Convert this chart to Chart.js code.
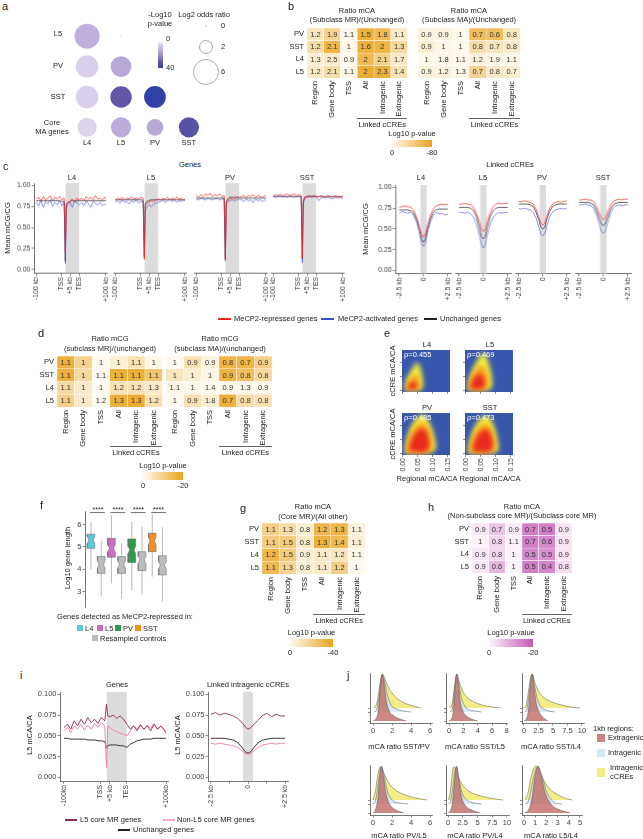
<!DOCTYPE html>
<html>
<head>
<meta charset="utf-8">
<script src="https://cdn.jsdelivr.net/npm/chart.js@4.4.1/dist/chart.umd.min.js"></script>
<style>
  body { margin: 0; width: 643px; height: 839px; position: relative; overflow: hidden; background: #fff;
         font-family: 'Liberation Sans', Arial, sans-serif; color: #222; }
  .t { position: absolute; white-space: nowrap; line-height: 1; color: #222; }
  .k { position: absolute; }
</style>
</head>
<body>
<script>
// ---------------- data ----------------

// a: overlap of MeCP2-activated genes
const A_COLS = ['L4', 'L5', 'PV', 'SST'];
const A_ROWS = ['L5', 'PV', 'SST', 'Core MA genes'];
const A_COL_IDX = [1, 2, 1, 2, 3, 1, 2, 3, 1, 2, 3, 4];
const A_ROW_IDX = [1, 1, 2, 2, 2, 3, 3, 3, 4, 4, 4, 4];
const A_LOG2OR = [5.6, 0.03, 4.5, 3.8, 0.03, 4.5, 4.1, 4.2, 3.3, 3.6, 2.5, 3.6];
const A_NLOGP = [12, 0.5, 5, 14, 0.5, 5, 31, 40, 4, 13, 14, 33];

// heatmaps (rows top to bottom)
const HM_ROWS = ['PV', 'SST', 'L4', 'L5'];
const HM_COLS = ['Region', 'Gene body', 'TSS', 'All', 'Intragenic', 'Extragenic'];

const B_MR_RATIO = [[1.2, 1.9, 1.1, 1.5, 1.8, 1.1], [1.2, 2.1, 1, 1.6, 2, 1.3], [1.3, 2.5, 0.9, 2, 2.1, 1.7], [1.2, 2.1, 1.1, 2, 2.3, 1.4]];
const B_MR_LOGP = [[-20, -36, -4, -68, -60, -16], [-28, -64, -4, -68, -64, -32], [-12, -16, -2, -60, -40, -16], [-16, -28, -4, -72, -68, -24]];
const B_MA_RATIO = [[0.9, 0.9, 1, 0.7, 0.6, 0.8], [0.9, 1, 1, 0.8, 0.7, 0.8], [1, 1.8, 1.1, 1.2, 1.9, 1.1], [0.9, 1.2, 1.3, 0.7, 0.8, 0.7]];
const B_MA_LOGP = [[-8, -8, -2, -56, -56, -20], [-12, -4, -2, -28, -20, -16], [-2, -4, -2, -8, -4, -4], [-8, -8, -4, -36, -16, -12]];

const D_MR_RATIO = [[1.1, 1, 1, 1, 1.1, 1], [1.1, 1, 1.1, 1.1, 1.1, 1.1], [1.1, 1, 1, 1.2, 1.2, 1.3], [1.1, 1, 1.2, 1.3, 1.3, 1.2]];
const D_MR_LOGP = [[-17, -9, -0.4, -3, -6, -1], [-17, -8, -0.4, -17, -17, -12], [-8, -4, -0.4, -6, -6, -4], [-10, -4, -0.4, -17, -18, -6]];
const D_MA_RATIO = [[1, 0.9, 0.9, 0.8, 0.7, 0.9], [1, 1, 1, 0.9, 0.8, 0.8], [1.1, 1, 1.4, 0.9, 1.3, 0.9], [1, 0.9, 1.8, 0.7, 0.8, 0.8]];
const D_MA_LOGP = [[-0.4, -6, -2, -16, -16, -10], [-5, -3, -1, -16, -14, -8], [-1, -0.4, -0.4, -1, -1, -1], [-0.4, -6, -3, -17, -7, -6]];

const G_RATIO = [[1.1, 1.3, 0.8, 1.2, 1.3, 1.1], [1.1, 1.5, 0.8, 1.3, 1.4, 1.1], [1.2, 1.5, 0.9, 1.1, 1.2, 1.1], [1.1, 1.3, 0.8, 1.1, 1.2, 1]];
const G_LOGP = [[-20, -14, -6, -32, -32, -4], [-22, -22, -8, -34, -30, -6], [-32, -22, -6, -8, -10, -2], [-30, -18, -6, -8, -20, -1]];

const H_RATIO = [[0.9, 0.7, 0.9, 0.7, 0.5, 0.9], [1, 0.8, 1.1, 0.7, 0.6, 0.9], [0.9, 0.8, 1, 0.5, 0.5, 0.9], [0.9, 0.6, 1, 0.5, 0.4, 0.8]];
const H_LOGP = [[-2, -6, -1, -15, -15, -2], [-0.4, -4, -0.4, -15, -14, -2], [-2, -4, -0.4, -14, -13, -2], [-2, -8, -0.4, -15, -14, -3]];

// c / i: metagene positions (-100 kb = 0, TSS = 100, TES = 148, +100 kb = 240)
const GX = [0, 8, 16, 24, 32, 40, 48, 56, 64, 72, 80, 88, 96, 100, 103, 108, 116, 124, 132, 140, 148,
            156, 164, 172, 180, 188, 196, 204, 212, 220, 228, 236, 240];
const GENE_TSS = 100, GENE_TES = 148;

const CG_RED_L4 = [0.84, 0.86, 0.82, 0.87, 0.83, 0.85, 0.88, 0.82, 0.86, 0.84, 0.87, 0.83, 0.85, 0.20, 0.78, 0.79, 0.82, 0.84, 0.80, 0.85, 0.83, 0.85, 0.82, 0.87, 0.84, 0.86, 0.83, 0.88, 0.84, 0.85, 0.83, 0.86, 0.84];
const CG_BLUE_L4 = [0.80, 0.76, 0.82, 0.74, 0.81, 0.78, 0.83, 0.75, 0.80, 0.77, 0.82, 0.76, 0.80, 0.07, 0.72, 0.76, 0.80, 0.74, 0.82, 0.79, 0.77, 0.80, 0.76, 0.82, 0.78, 0.74, 0.81, 0.79, 0.77, 0.80, 0.76, 0.78, 0.77];
const CG_BLACK_L4 = [0.82, 0.82, 0.82, 0.82, 0.82, 0.82, 0.82, 0.82, 0.82, 0.82, 0.82, 0.81, 0.81, 0.10, 0.77, 0.80, 0.81, 0.82, 0.82, 0.82, 0.82, 0.82, 0.82, 0.82, 0.82, 0.82, 0.82, 0.82, 0.82, 0.82, 0.82, 0.82, 0.82];
const CG_RED_L5 = [0.83, 0.85, 0.84, 0.86, 0.83, 0.85, 0.84, 0.86, 0.84, 0.85, 0.84, 0.86, 0.85, 0.12, 0.76, 0.78, 0.80, 0.82, 0.81, 0.83, 0.84, 0.83, 0.85, 0.84, 0.86, 0.83, 0.85, 0.84, 0.86, 0.84, 0.85, 0.83, 0.84];
const CG_BLUE_L5 = [0.80, 0.82, 0.79, 0.83, 0.80, 0.81, 0.78, 0.82, 0.80, 0.83, 0.79, 0.81, 0.80, 0.14, 0.70, 0.74, 0.77, 0.75, 0.78, 0.79, 0.80, 0.81, 0.83, 0.80, 0.82, 0.84, 0.81, 0.83, 0.80, 0.82, 0.81, 0.83, 0.82];
const CG_BLACK_L5 = [0.83, 0.83, 0.83, 0.83, 0.83, 0.83, 0.83, 0.83, 0.83, 0.83, 0.83, 0.83, 0.82, 0.16, 0.78, 0.81, 0.82, 0.83, 0.83, 0.83, 0.83, 0.83, 0.83, 0.83, 0.83, 0.83, 0.83, 0.83, 0.83, 0.83, 0.83, 0.83, 0.83];
const CG_RED_PV = [0.88, 0.86, 0.89, 0.87, 0.90, 0.88, 0.91, 0.87, 0.89, 0.88, 0.90, 0.87, 0.88, 0.12, 0.80, 0.82, 0.84, 0.85, 0.84, 0.86, 0.85, 0.87, 0.88, 0.86, 0.88, 0.87, 0.89, 0.86, 0.88, 0.87, 0.86, 0.88, 0.87];
const CG_BLUE_PV = [0.84, 0.83, 0.85, 0.84, 0.83, 0.85, 0.84, 0.83, 0.84, 0.85, 0.83, 0.84, 0.84, 0.10, 0.78, 0.80, 0.82, 0.83, 0.82, 0.83, 0.84, 0.83, 0.81, 0.84, 0.82, 0.83, 0.80, 0.84, 0.82, 0.83, 0.81, 0.83, 0.82];
const CG_BLACK_PV = [0.85, 0.85, 0.85, 0.85, 0.85, 0.85, 0.85, 0.85, 0.85, 0.85, 0.85, 0.85, 0.85, 0.13, 0.80, 0.84, 0.86, 0.86, 0.86, 0.86, 0.86, 0.85, 0.85, 0.85, 0.85, 0.85, 0.85, 0.85, 0.85, 0.85, 0.85, 0.85, 0.85];
const CG_RED_SST = [0.88, 0.89, 0.88, 0.90, 0.88, 0.89, 0.90, 0.88, 0.89, 0.90, 0.88, 0.89, 0.88, 0.14, 0.80, 0.86, 0.87, 0.88, 0.87, 0.88, 0.87, 0.86, 0.88, 0.87, 0.86, 0.88, 0.87, 0.86, 0.88, 0.87, 0.86, 0.87, 0.87];
const CG_BLUE_SST = [0.87, 0.86, 0.87, 0.88, 0.86, 0.87, 0.86, 0.88, 0.87, 0.86, 0.87, 0.87, 0.86, 0.08, 0.78, 0.85, 0.86, 0.87, 0.86, 0.87, 0.86, 0.82, 0.85, 0.86, 0.85, 0.86, 0.85, 0.84, 0.86, 0.85, 0.86, 0.85, 0.85];
const CG_BLACK_SST = [0.87, 0.87, 0.87, 0.87, 0.87, 0.87, 0.87, 0.87, 0.87, 0.87, 0.87, 0.87, 0.87, 0.12, 0.81, 0.86, 0.87, 0.87, 0.87, 0.87, 0.87, 0.87, 0.87, 0.87, 0.87, 0.87, 0.87, 0.87, 0.87, 0.87, 0.87, 0.87, 0.87];

// linked cCRE profiles (kb from cCRE centre)
const CX = [-2.5, -2.2, -1.9, -1.6, -1.3, -1.0, -0.7, -0.4, -0.2, 0, 0.2, 0.4, 0.7, 1.0, 1.3, 1.6, 1.9, 2.2, 2.5];
const CC_RED_L4 = [0.76, 0.77, 0.78, 0.77, 0.76, 0.72, 0.64, 0.52, 0.44, 0.40, 0.44, 0.54, 0.66, 0.74, 0.78, 0.79, 0.80, 0.79, 0.80];
const CC_BLACK_L4 = [0.73, 0.73, 0.73, 0.73, 0.72, 0.69, 0.61, 0.48, 0.38, 0.34, 0.38, 0.49, 0.62, 0.70, 0.73, 0.74, 0.74, 0.74, 0.74];
const CC_BLUE_L4 = [0.69, 0.71, 0.70, 0.69, 0.70, 0.66, 0.58, 0.44, 0.33, 0.29, 0.33, 0.45, 0.58, 0.66, 0.70, 0.68, 0.69, 0.67, 0.68];
const CC_RED_L5 = [0.80, 0.80, 0.81, 0.80, 0.79, 0.76, 0.69, 0.58, 0.50, 0.47, 0.50, 0.59, 0.70, 0.77, 0.80, 0.81, 0.80, 0.81, 0.81];
const CC_BLACK_L5 = [0.76, 0.76, 0.76, 0.76, 0.75, 0.72, 0.64, 0.51, 0.41, 0.38, 0.41, 0.52, 0.65, 0.72, 0.75, 0.76, 0.76, 0.76, 0.76];
const CC_BLUE_L5 = [0.70, 0.70, 0.69, 0.70, 0.68, 0.64, 0.55, 0.42, 0.31, 0.27, 0.31, 0.43, 0.56, 0.64, 0.68, 0.70, 0.69, 0.70, 0.70];
const CC_RED_PV = [0.83, 0.83, 0.84, 0.83, 0.82, 0.80, 0.74, 0.64, 0.57, 0.55, 0.57, 0.65, 0.75, 0.80, 0.82, 0.83, 0.82, 0.83, 0.84];
const CC_BLACK_PV = [0.80, 0.80, 0.80, 0.80, 0.79, 0.77, 0.70, 0.60, 0.52, 0.50, 0.52, 0.61, 0.71, 0.77, 0.79, 0.80, 0.80, 0.80, 0.80];
const CC_BLUE_PV = [0.75, 0.74, 0.75, 0.74, 0.73, 0.70, 0.63, 0.52, 0.44, 0.42, 0.44, 0.53, 0.64, 0.70, 0.73, 0.74, 0.75, 0.74, 0.75];
const CC_RED_SST = [0.85, 0.85, 0.86, 0.85, 0.85, 0.83, 0.77, 0.68, 0.63, 0.61, 0.63, 0.69, 0.78, 0.83, 0.85, 0.86, 0.85, 0.86, 0.86];
const CC_BLACK_SST = [0.82, 0.82, 0.82, 0.82, 0.81, 0.79, 0.72, 0.62, 0.56, 0.54, 0.56, 0.63, 0.73, 0.79, 0.81, 0.82, 0.82, 0.82, 0.82];
const CC_BLUE_SST = [0.79, 0.79, 0.80, 0.79, 0.78, 0.75, 0.67, 0.55, 0.47, 0.45, 0.47, 0.56, 0.68, 0.75, 0.78, 0.79, 0.78, 0.79, 0.79];

// e: density contours [regional mCA/CA, cCRE mCA/CA]
const E_YELLOW = [
  [[0.006, 0.002], [0.006, 0.02], [0.012, 0.045], [0.025, 0.07], [0.04, 0.095], [0.048, 0.103], [0.056, 0.09], [0.063, 0.06], [0.067, 0.03], [0.063, 0.006], [0.04, 0.001], [0.006, 0.002]],
  [[0.006, 0.002], [0.006, 0.025], [0.015, 0.06], [0.03, 0.095], [0.048, 0.128], [0.058, 0.138], [0.068, 0.125], [0.078, 0.09], [0.086, 0.05], [0.084, 0.01], [0.05, 0.001], [0.006, 0.002]],
  [[0.006, 0.002], [0.007, 0.03], [0.016, 0.07], [0.032, 0.11], [0.052, 0.135], [0.066, 0.142], [0.08, 0.128], [0.095, 0.095], [0.106, 0.055], [0.108, 0.015], [0.07, 0.002], [0.006, 0.002]],
  [[0.006, 0.002], [0.008, 0.03], [0.018, 0.07], [0.034, 0.108], [0.052, 0.13], [0.066, 0.138], [0.082, 0.125], [0.096, 0.09], [0.105, 0.05], [0.106, 0.012], [0.07, 0.002], [0.006, 0.002]]
];
const E_ORANGE = [
  [[0.01, 0.005], [0.012, 0.02], [0.02, 0.038], [0.035, 0.055], [0.046, 0.06], [0.053, 0.045], [0.056, 0.02], [0.052, 0.006], [0.03, 0.004], [0.01, 0.005]],
  [[0.01, 0.005], [0.012, 0.03], [0.022, 0.06], [0.04, 0.085], [0.055, 0.09], [0.068, 0.07], [0.074, 0.035], [0.07, 0.008], [0.04, 0.004], [0.01, 0.005]],
  [[0.012, 0.006], [0.015, 0.035], [0.026, 0.07], [0.045, 0.1], [0.062, 0.112], [0.08, 0.1], [0.092, 0.065], [0.096, 0.025], [0.085, 0.007], [0.04, 0.005], [0.012, 0.006]],
  [[0.012, 0.006], [0.016, 0.035], [0.028, 0.07], [0.047, 0.098], [0.065, 0.108], [0.082, 0.095], [0.093, 0.06], [0.096, 0.022], [0.085, 0.007], [0.04, 0.005], [0.012, 0.006]]
];
const E_RED = [
  [[0.014, 0.008], [0.02, 0.022], [0.032, 0.033], [0.042, 0.03], [0.046, 0.018], [0.043, 0.008], [0.028, 0.006], [0.014, 0.008]],
  [[0.014, 0.008], [0.018, 0.028], [0.03, 0.05], [0.047, 0.062], [0.058, 0.05], [0.062, 0.025], [0.056, 0.009], [0.03, 0.006], [0.014, 0.008]],
  [[0.02, 0.01], [0.024, 0.035], [0.036, 0.065], [0.055, 0.088], [0.072, 0.088], [0.084, 0.06], [0.087, 0.025], [0.078, 0.01], [0.045, 0.008], [0.02, 0.01]],
  [[0.022, 0.01], [0.026, 0.035], [0.038, 0.065], [0.057, 0.086], [0.074, 0.085], [0.086, 0.058], [0.089, 0.025], [0.08, 0.01], [0.045, 0.008], [0.022, 0.01]]
];
const E_NAMES = ['L4', 'L5', 'PV', 'SST'];
const E_RHO = [0.455, 0.469, 0.485, 0.473];

// f: log10 gene length box stats
const F_POS = [1, 2, 3, 4, 5, 6, 7, 8];
const F_LO  = [4.00, 2.78, 3.37, 2.70, 3.07, 2.85, 3.67, 2.55];
const F_Q1  = [4.94, 3.82, 4.54, 3.82, 4.31, 3.94, 4.79, 3.75];
const F_MED = [5.31, 4.22, 4.94, 4.22, 4.87, 4.42, 5.27, 4.19];
const F_Q3  = [5.57, 4.57, 5.39, 4.57, 5.36, 4.79, 5.61, 4.61];
const F_HI  = [6.13, 5.28, 6.43, 5.16, 6.13, 5.91, 6.46, 5.88];
const F_COLORS = ['#5bc8dc', '#bcbcbc', '#c86fc0', '#bcbcbc', '#2f9a4a', '#bcbcbc', '#f68f1f', '#bcbcbc'];
const F_SIG = [[1, 2], [3, 4], [5, 6], [7, 8]];

// i: L5 mCA/CA
const I_CORE = [0.060, 0.064, 0.058, 0.068, 0.062, 0.070, 0.064, 0.072, 0.066, 0.070, 0.065, 0.072, 0.068, 0.088, 0.074, 0.073, 0.075, 0.071, 0.074, 0.070, 0.064, 0.058, 0.062, 0.056, 0.063, 0.058, 0.062, 0.056, 0.064, 0.058, 0.062, 0.057, 0.055];
const I_NONCORE = [0.056, 0.060, 0.054, 0.062, 0.058, 0.064, 0.057, 0.063, 0.058, 0.065, 0.060, 0.066, 0.062, 0.012, 0.062, 0.060, 0.057, 0.055, 0.053, 0.052, 0.050, 0.056, 0.062, 0.058, 0.064, 0.057, 0.063, 0.059, 0.065, 0.058, 0.062, 0.057, 0.052];
const I_UNCH = [0.047, 0.047, 0.046, 0.046, 0.046, 0.046, 0.046, 0.045, 0.045, 0.045, 0.044, 0.044, 0.043, 0.035, 0.038, 0.039, 0.039, 0.039, 0.038, 0.038, 0.036, 0.040, 0.042, 0.044, 0.045, 0.046, 0.046, 0.046, 0.047, 0.047, 0.047, 0.047, 0.047];
const IC_CORE = [0.076, 0.078, 0.075, 0.077, 0.076, 0.074, 0.071, 0.066, 0.061, 0.058, 0.060, 0.064, 0.069, 0.075, 0.077, 0.073, 0.076, 0.074, 0.074];
const IC_NONCORE = [0.041, 0.040, 0.041, 0.040, 0.039, 0.038, 0.036, 0.032, 0.029, 0.027, 0.029, 0.032, 0.036, 0.039, 0.040, 0.041, 0.040, 0.041, 0.041];
const IC_UNCH = [0.047, 0.047, 0.047, 0.047, 0.046, 0.045, 0.042, 0.036, 0.031, 0.029, 0.031, 0.036, 0.042, 0.045, 0.046, 0.047, 0.047, 0.047, 0.047];

// j: ridge densities [ratio, height]; baselines extragenic 0, intragenic 9, cCREs 13
const J_TITLES = ['mCA ratio SST/PV', 'mCA ratio SST/L5', 'mCA ratio SST/L4', 'mCA ratio PV/L5', 'mCA ratio PV/L4', 'mCA ratio L5/L4'];
const J_TICKS = [[0, 2, 4, 6], [0, 2, 4, 6, 8], [0, 2.5, 5, 7.5, 10], [0, 2, 4, 6], [0, 2.5, 5, 7.5, 10], [0, 1, 2, 3, 4, 5]];
const J_EXTRA = [
  [[0, 0], [0.3, 2], [0.55, 10], [0.75, 30], [0.95, 47], [1.15, 38], [1.4, 20], [1.7, 10], [2.2, 5], [2.8, 2], [3.5, 0]],
  [[0, 0], [0.35, 2], [0.6, 10], [0.85, 32], [1.05, 47], [1.3, 36], [1.6, 18], [2, 9], [2.6, 4], [3.3, 1.5], [4, 0]],
  [[0, 0], [0.4, 2], [0.8, 12], [1.1, 32], [1.4, 47], [1.7, 35], [2.1, 18], [2.6, 9], [3.2, 4], [4.1, 0]],
  [[0, 0], [0.25, 3], [0.5, 14], [0.7, 35], [0.88, 47], [1.1, 36], [1.4, 18], [1.8, 8], [2.4, 3], [3.3, 0]],
  [[0, 0], [0.4, 2], [0.8, 12], [1.1, 32], [1.45, 47], [1.8, 34], [2.3, 16], [3, 7], [4, 3], [5.5, 0]],
  [[0.05, 0], [0.4, 3], [0.7, 14], [0.95, 34], [1.25, 47], [1.55, 36], [1.9, 20], [2.4, 9], [3, 4], [4.1, 0]]
];
const J_INTRA = [
  [[0.1, 9], [0.4, 12], [0.65, 25], [0.85, 42], [1.0, 46], [1.2, 40], [1.5, 26], [1.9, 16], [2.5, 12], [3.2, 10], [4, 9]],
  [[0.1, 9], [0.45, 12], [0.7, 26], [0.95, 43], [1.1, 46], [1.35, 38], [1.7, 24], [2.2, 15], [2.9, 11], [3.7, 10], [4.5, 9]],
  [[0.1, 9], [0.5, 12], [0.9, 28], [1.2, 43], [1.45, 46], [1.8, 36], [2.3, 22], [3, 14], [4, 10.5], [5.3, 9]],
  [[0, 9], [0.3, 14], [0.55, 30], [0.75, 43], [0.92, 46], [1.15, 38], [1.5, 22], [2, 13], [2.8, 10], [3.7, 9]],
  [[0.1, 9], [0.5, 13], [0.9, 30], [1.2, 43], [1.45, 46], [1.8, 36], [2.4, 20], [3.2, 13], [4.4, 10], [5.7, 9]],
  [[0.1, 9], [0.45, 14], [0.75, 30], [1.0, 42], [1.25, 46], [1.6, 37], [2.0, 22], [2.4, 14], [2.8, 10], [3.4, 9]]
];
const J_CRE = [
  [[0.1, 13], [0.4, 18], [0.65, 32], [0.85, 44], [1.0, 47], [1.25, 42], [1.6, 34], [2.0, 28], [2.6, 22], [3.3, 18], [4.2, 15], [5, 13]],
  [[0.1, 13], [0.45, 18], [0.75, 34], [0.95, 44], [1.1, 47], [1.4, 40], [1.9, 30], [2.6, 23], [3.5, 19], [4.6, 16], [6, 14], [7.2, 13]],
  [[0.1, 13], [0.5, 19], [0.9, 35], [1.2, 45], [1.45, 47], [1.9, 38], [2.6, 29], [3.5, 23], [4.8, 19], [6.5, 16], [8, 14], [9.7, 13]],
  [[0, 13], [0.25, 22], [0.5, 38], [0.75, 46], [0.95, 44], [1.3, 36], [1.8, 28], [2.5, 22], [3.4, 18], [4.5, 15], [5.7, 13]],
  [[0.1, 13], [0.4, 22], [0.7, 38], [0.95, 46], [1.2, 45], [1.7, 36], [2.5, 28], [3.5, 22], [5, 18], [7, 15], [9.3, 13]],
  [[0.1, 13], [0.35, 20], [0.6, 34], [0.85, 44], [1.05, 47], [1.4, 42], [1.8, 32], [2.3, 24], [2.9, 19], [3.6, 15], [4.3, 13]]
];

// ---------------- helpers ----------------
Chart.defaults.font.family = "'Liberation Sans', Arial, sans-serif";
Chart.defaults.font.size = 7;
Chart.defaults.color = '#333';

const AX = '#3c3c3c';
const RED = '#ff2222', BLUE = 'rgba(60,80,205,0.85)', BLACK = '#222';
const ORANGE = [[0, [255, 251, 243]], [1, [235, 163, 28]]];
const MAGENTA = [[0, [253, 245, 251]], [1, [195, 88, 180]]];
const PURPLE = [[0, [236, 230, 243]], [0.25, [200, 185, 226]], [0.5, [160, 142, 202]], [0.75, [105, 87, 168]], [1, [48, 66, 168]]];

function ramp(stops, t) {
  t = Math.max(0, Math.min(1, t));
  for (let i = 1; i < stops.length; i++) {
    if (t <= stops[i][0]) {
      const [t0, c0] = stops[i - 1], [t1, c1] = stops[i];
      const f = (t - t0) / (t1 - t0);
      return 'rgb(' + c0.map((v, k) => Math.round(v + (c1[k] - v) * f)).join(',') + ')';
    }
  }
}
const cssRamp = (stops, dir) => `linear-gradient(${dir}, ${stops.map(s => ramp(stops, s[0]) + ' ' + (s[0] * 100) + '%').join(', ')})`;

function txt(s, x, y, o = {}) {
  const d = document.createElement('div');
  d.className = 't';
  d.textContent = s;
  const a = o.a || 'c';
  const tx = a === 'l' ? '0' : a === 'r' ? '-100%' : '-50%';
  d.style.left = x + 'px';
  d.style.top = y + 'px';
  d.style.fontSize = (o.s || 7.5) + 'px';
  if (o.c) d.style.color = o.c;
  d.style.transform = `translate(${tx},-50%)` + (o.r ? ` rotate(${o.r}deg)` : '');
  document.body.appendChild(d);
}
function rect(x, y, w, h, bg, extra = {}) {
  const d = document.createElement('div');
  d.className = 'k';
  Object.assign(d.style, {left: x + 'px', top: y + 'px', width: w + 'px', height: h + 'px', background: bg}, extra);
  document.body.appendChild(d);
}

function lin(min, max, ticks, labels, o = {}) {
  const showTick = o.tick !== false;
  return {
    type: 'linear', min, max, reverse: !!o.reverse,
    afterBuildTicks: s => { s.ticks = ticks.map(v => ({value: v})); },
    ticks: {display: o.labels !== false, autoSkip: false, padding: o.pad ?? 1,
            maxRotation: o.rot ? 90 : 0, minRotation: o.rot ? 90 : 0,
            font: {size: o.fs || 7}, color: o.tc || '#444',
            callback: (v, i) => labels ? labels[i] : v},
    grid: {display: showTick, drawOnChartArea: false, drawTicks: showTick, tickLength: o.tl ?? 2.5, color: AX, lineWidth: 0.6},
    border: {display: o.line !== false, color: AX, width: 0.7}
  };
}

// chart whose plot area lands on box {x, y, w, h}
function mkChart(box, cfg) {
  const pad = 10, yw = cfg.yw || 0, xh = cfg.xh || 0;
  const holder = document.createElement('div');
  holder.className = 'k';
  Object.assign(holder.style, {left: (box.x - yw - pad) + 'px', top: (box.y - pad) + 'px',
    width: (box.w + yw + 2 * pad) + 'px', height: (box.h + xh + 2 * pad) + 'px'});
  const cv = document.createElement('canvas');
  holder.appendChild(cv);
  document.body.appendChild(holder);
  const xs = cfg.x, ys = cfg.y;
  const showX = xs.display !== false, showY = ys.display !== false;
  if (showX) xs.afterFit = s => { s.height = xh; s.paddingLeft = 0; s.paddingRight = 0; };
  if (showY) ys.afterFit = s => { s.width = yw; s.paddingTop = 0; s.paddingBottom = 0; };
  return new Chart(cv, {
    type: cfg.type,
    data: cfg.data,
    plugins: cfg.plugins || [],
    options: {
      responsive: true, maintainAspectRatio: false, animation: false, events: [],
      layout: {padding: {left: pad + (showY ? 0 : yw), right: pad, top: pad, bottom: pad + (showX ? 0 : xh)}},
      plugins: {legend: {display: false}, tooltip: {enabled: false}},
      scales: {x: xs, y: ys}
    }
  });
}

const xy = (xs, ys) => xs.map((x, i) => ({x, y: ys[i]}));
const lineDs = (xs, ys, color, w) => ({type: 'line', data: xy(xs, ys), borderColor: color, borderWidth: w, pointRadius: 0, fill: false, tension: 0});
const bandDs = (x0, x1, top) => ({type: 'line', data: [{x: x0, y: top}, {x: x1, y: top}], borderColor: 'rgba(0,0,0,0)', borderWidth: 0,
  backgroundColor: '#dcdcdc', fill: 'start', pointRadius: 0, order: 10});

// ---------------- heatmaps ----------------
const cellText = ratios => ({
  id: 'cellText',
  afterDatasetsDraw(ch) {
    const ctx = ch.ctx;
    ctx.save();
    ctx.font = "7.5px 'Liberation Sans', Arial, sans-serif";
    ctx.fillStyle = '#333';
    ctx.textAlign = 'center';
    ctx.textBaseline = 'middle';
    ch.data.datasets.forEach((ds, i) => {
      ch.getDatasetMeta(i).data.forEach((el, j) => ctx.fillText(String(ratios[ds.row][j]), el.x, (el.y + el.base) / 2 + 0.5));
    });
    ctx.restore();
  }
});

function heatmap(box, ratios, logp, pmax, stops, showRows) {
  const order = [3, 2, 1, 0];
  const datasets = order.map(r => ({
    row: r,
    data: HM_COLS.map(() => 1),
    backgroundColor: logp[r].map(p => ramp(stops, p / pmax)),
    borderColor: '#ffffff', borderWidth: 0.5,
    barPercentage: 1, categoryPercentage: 1
  }));
  const y = showRows
    ? Object.assign(lin(0, 4, [0.5, 1.5, 2.5, 3.5], order.map(r => HM_ROWS[r]), {tick: false, line: false, fs: 7.5, pad: 3, tc: '#222'}), {stacked: true})
    : {type: 'linear', display: false, stacked: true, min: 0, max: 4};
  mkChart(box, {
    type: 'bar', yw: showRows ? 24 : 0, xh: 42,
    data: {labels: HM_COLS, datasets},
    plugins: [cellText(ratios)],
    x: {type: 'category', stacked: true,
        ticks: {autoSkip: false, maxRotation: 90, minRotation: 90, padding: 3, font: {size: 7.5}, color: '#222'},
        grid: {display: false, drawTicks: false}, border: {display: false}},
    y
  });
}
function bracket(x0, x1, y) {
  rect(x0, y, x1 - x0, 0.8, '#666');
  txt('Linked cCREs', (x0 + x1) / 2, y + 7);
}
function colorbar(x, y, w, h, stops, lo, hi, title) {
  txt(title, x + w / 2, y - 6);
  rect(x, y, w, h, cssRamp(stops, 'to right'));
  txt(lo, x, y + h + 6);
  txt(hi, x + w, y + h + 6);
}

// ---------------- panel a ----------------
txt('a', 2, 6, {s: 11, a: 'l'});
const orRadius = v => Math.max(0.9, 5.3 * Math.sqrt(v));
mkChart({x: 72, y: 20, w: 133, h: 118}, {
  type: 'bubble', yw: 0, xh: 10,
  data: {datasets: [{
    data: A_LOG2OR.map((v, i) => ({x: A_COL_IDX[i], y: A_ROW_IDX[i], r: orRadius(v)})),
    backgroundColor: A_NLOGP.map(p => ramp(PURPLE, p / 40)), borderWidth: 0, clip: false
  }]},
  x: lin(0.63, 4.4, [1, 2, 3, 4], A_COLS, {tick: false, line: false, fs: 7.5, pad: 0, tc: '#222'}),
  y: {type: 'linear', display: false, reverse: true, min: 0.55, max: 4.35}
});
[[58, 34], [58, 65.5], [58, 97]].forEach(([x, y], i) => txt(A_ROWS[i], x, y));
txt('Core', 52, 122.5);
txt('MA genes', 52, 131.5);
txt('-Log10', 160, 15);
txt('p-value', 160, 24);
rect(158, 42, 5, 26, cssRamp(PURPLE, 'to bottom'));
txt('0', 166, 39, {a: 'l'});
txt('40', 166, 68, {a: 'l'});
txt('Log2 odds ratio', 204, 15);
[[0, 0.8, 26], [2, 7, 47], [6, 13, 72]].forEach(([v, r, cy]) => {
  rect(206 - r, cy - r, 2 * r, 2 * r, '#fff', {borderRadius: '50%', border: r > 1 ? '0.7px solid #aaa' : '0.7px solid #ccc', boxSizing: 'border-box'});
  txt(String(v), 221, cy, {a: 'l'});
});

// ---------------- panel b ----------------
txt('b', 288, 6, {s: 11, a: 'l'});
txt('Ratio mCA', 357, 11); txt('(Subclass MR)/(Unchanged)', 357, 20);
txt('Ratio mCA', 469, 11); txt('(Subclass MA)/(Unchanged)', 469, 20);
heatmap({x: 306.7, y: 28, w: 100.6, h: 50}, B_MR_RATIO, B_MR_LOGP, -80, ORANGE, true);
heatmap({x: 417.7, y: 28, w: 102.3, h: 50}, B_MA_RATIO, B_MA_LOGP, -80, ORANGE, false);
bracket(357, 407.3, 118);
bracket(468.8, 520, 118);
colorbar(392, 140, 40, 7, ORANGE, '0', '-80', 'Log10 p-value');

// ---------------- panel c ----------------
txt('c', 3, 166, {s: 11, a: 'l'});
txt('Genes', 190, 165);
txt('Linked cCREs', 510, 165);
const MCG_TICKS = [0, 0.25, 0.5, 0.75, 1];
const MCG_LABELS = ['0.00', '0.25', '0.50', '0.75', '1.00'];
const GENE_TICKS = [0, 86, 117, 148, 240];
const GENE_LABELS = ['-100 kb', 'TSS', '+5 kb', 'TES', '+100 kb'];
const C_NAMES = ['L4', 'L5', 'PV', 'SST'];
const CG_RED = [CG_RED_L4, CG_RED_L5, CG_RED_PV, CG_RED_SST];
const CG_BLUE = [CG_BLUE_L4, CG_BLUE_L5, CG_BLUE_PV, CG_BLUE_SST];
const CG_BLACK = [CG_BLACK_L4, CG_BLACK_L5, CG_BLACK_PV, CG_BLACK_SST];
const CG_LEFT = [33.7, 112.7, 193.7, 270.7];
const CG_TITLE = [72, 151, 230, 307];
C_NAMES.forEach((nm, k) => {
  mkChart({x: CG_LEFT[k], y: 183, w: 73.7, h: 89.5}, {
    type: 'line', yw: k === 0 ? 22 : 0, xh: 36,
    data: {datasets: [lineDs(GX, CG_RED[k], RED, 0.7), lineDs(GX, CG_BLUE[k], BLUE, 0.7),
                      lineDs(GX, CG_BLACK[k], BLACK, 0.7), bandDs(GENE_TSS, GENE_TES, 1.1)]},
    x: lin(-8, 246, GENE_TICKS, GENE_LABELS, {rot: true}),
    y: k === 0 ? lin(-0.045, 1.03, MCG_TICKS, MCG_LABELS) : {type: 'linear', display: false, min: -0.045, max: 1.03}
  });
  txt(nm, CG_TITLE[k], 178);
});
txt('Mean mCG/CG', 8, 228, {r: -90});

const CC_RED = [CC_RED_L4, CC_RED_L5, CC_RED_PV, CC_RED_SST];
const CC_BLUE = [CC_BLUE_L4, CC_BLUE_L5, CC_BLUE_PV, CC_BLUE_SST];
const CC_BLACK = [CC_BLACK_L4, CC_BLACK_L5, CC_BLACK_PV, CC_BLACK_SST];
const CC_LEFT = [395.2, 455.2, 514.7, 575.2];
const CC_TITLE = [421, 483, 542, 603];
C_NAMES.forEach((nm, k) => {
  mkChart({x: CC_LEFT[k], y: 184.5, w: 55.7, h: 88.8}, {
    type: 'line', yw: k === 0 ? 24 : 0, xh: 36,
    data: {datasets: [lineDs(CX, CC_RED[k], RED, 0.7), lineDs(CX, CC_BLUE[k], BLUE, 0.7),
                      lineDs(CX, CC_BLACK[k], BLACK, 0.7), bandDs(-0.35, 0.35, 1.1)]},
    x: lin(-2.9, 2.9, [-2.5, 0, 2.5], ['-2.5 kb', '0', '+2.5 kb'], {rot: true}),
    y: k === 0 ? lin(-0.04, 1.03, MCG_TICKS, MCG_LABELS) : {type: 'linear', display: false, min: -0.04, max: 1.03}
  });
  txt(nm, CC_TITLE[k], 178);
});
txt('Mean mCG/CG', 366, 229, {r: -90});
rect(218, 318, 13, 2, RED); txt('MeCP2-repressed genes', 234, 319, {a: 'l'});
rect(321, 318, 13, 2, '#3a4fc8'); txt('MeCP2-activated genes', 338, 319, {a: 'l'});
rect(424, 318, 13, 2, BLACK); txt('Unchanged genes', 440, 319, {a: 'l'});

// ---------------- panel d ----------------
txt('d', 38, 333, {s: 11, a: 'l'});
txt('Ratio mCG', 110, 339); txt('(subclass MR)/(unchanged)', 110, 349);
txt('Ratio mCG', 220, 339); txt('(subclass MA)/(unchanged)', 220, 349);
heatmap({x: 56.7, y: 355.7, w: 105.6, h: 51}, D_MR_RATIO, D_MR_LOGP, -20, ORANGE, true);
heatmap({x: 165.7, y: 355.7, w: 106, h: 51}, D_MA_RATIO, D_MA_LOGP, -20, ORANGE, false);
bracket(109.5, 162.3, 446);
bracket(218.7, 271.7, 446);
colorbar(143, 472, 40, 8, ORANGE, '0', '-20', 'Log10 p-value');

// ---------------- panel e ----------------
txt('e', 384, 333, {s: 11, a: 'l'});
const E_BG = '#3757ad';
const densityLook = {
  id: 'densityLook',
  beforeDraw(ch) { const a = ch.chartArea, c = ch.ctx; c.save(); c.fillStyle = E_BG; c.fillRect(a.left, a.top, a.width, a.height); c.restore(); },
  beforeDatasetsDraw(ch) { ch.ctx.save(); ch.ctx.filter = 'blur(2.5px)'; },
  afterDatasetsDraw(ch) { ch.ctx.restore(); }
};
const blob = (pts, col) => ({type: 'line', data: pts.map(([x, y]) => ({x, y})), fill: 'shape', backgroundColor: col,
  borderColor: 'rgba(0,0,0,0)', borderWidth: 0, tension: 0.35, pointRadius: 0});
const E_BOX = [{x: 402, y: 350}, {x: 465, y: 350}, {x: 402, y: 413}, {x: 465, y: 413}];
E_NAMES.forEach((nm, k) => {
  const bottom = k >= 2;
  mkChart({x: E_BOX[k].x, y: E_BOX[k].y, w: 48, h: 42}, {
    type: 'line', yw: 3, xh: bottom ? 30 : 3,
    data: {datasets: [blob(E_RED[k], '#e8281e'), blob(E_ORANGE[k], '#f6a21d'), blob(E_YELLOW[k], '#f4ee3c')]},
    plugins: [densityLook],
    x: lin(-0.0033, 0.1567, [0, 0.05, 0.1, 0.15], ['0.00', '0.05', '0.10', '0.15'], {rot: true, labels: bottom, line: false, tl: 2}),
    y: lin(-0.0036, 0.1464, [0, 0.05, 0.1], null, {labels: false, line: false, tl: 2})
  });
  txt(nm, E_BOX[k].x + 25, E_BOX[k].y - 5);
  txt('\u03c1=' + E_RHO[k], E_BOX[k].x + 2, E_BOX[k].y + 5, {a: 'l', c: '#fff'});
});
txt('cCRE mCA/CA', 393, 371, {r: -90});
txt('cCRE mCA/CA', 393, 434, {r: -90});
txt('Regional mCA/CA', 427, 479);
txt('Regional mCA/CA', 490, 479);

// ---------------- panel f ----------------
txt('f', 40, 505, {s: 11, a: 'l'});
const BOX_W = 0.37, NOTCH = 0.16;
const notchBox = i => {
  const x = F_POS[i], q1 = F_Q1[i], m = F_MED[i], q3 = F_Q3[i];
  return [[x - BOX_W, q1], [x + BOX_W, q1], [x + BOX_W, m - NOTCH], [x + BOX_W * 0.55, m], [x + BOX_W, m + NOTCH], [x + BOX_W, q3],
          [x - BOX_W, q3], [x - BOX_W, m + NOTCH], [x - BOX_W * 0.55, m], [x - BOX_W, m - NOTCH], [x - BOX_W, q1]];
};
const fSets = [];
F_POS.forEach((x, i) => {
  fSets.push({type: 'line', data: notchBox(i).map(([px, py]) => ({x: px, y: py})), fill: 'shape', backgroundColor: F_COLORS[i],
    borderColor: '#6e6e6e', borderWidth: 0.6, pointRadius: 0, order: 1});
  fSets.push({type: 'line', data: [{x, y: F_LO[i]}, {x, y: F_HI[i]}], borderColor: '#9a9a9a', borderWidth: 0.7, pointRadius: 0, order: 2});
});
F_SIG.forEach(([a, b]) => {
  fSets.push({type: 'line', data: [{x: a - 0.1, y: 6.54}, {x: b + 0.35, y: 6.54}], borderColor: '#333', borderWidth: 0.7, pointRadius: 0, order: 0});
});
mkChart({x: 85, y: 511, w: 85, h: 96}, {
  type: 'line', yw: 12, xh: 0,
  data: {datasets: fSets},
  x: {type: 'linear', display: false, min: 0.41, max: 8.74},
  y: lin(2.315, 6.61, [3, 4, 5, 6], ['3', '4', '5', '6'], {fs: 7.5})
});
[98, 118, 138.5, 158.5].forEach(x => txt('****', x, 509, {s: 7}));
txt('Log10 gene length', 68, 558, {r: -90});
txt('Genes detected as MeCP2-repressed in:', 125, 617);
[[77, '#5bc8dc', 'L4'], [97, '#c86fc0', 'L5'], [115, '#2f9a4a', 'PV'], [135, '#f68f1f', 'SST']].forEach(([x, c, s]) => {
  rect(x, 625, 6, 6, c); txt(s, x + 8, 628.5, {a: 'l'});
});
rect(92, 635, 6, 6, '#bcbcbc'); txt('Resampled controls', 100, 638.5, {a: 'l'});

// ---------------- panel g ----------------
txt('g', 240, 508, {s: 11, a: 'l'});
txt('Ratio mCA', 313, 507); txt('(Core MR)/(All other)', 313, 517);
heatmap({x: 261.7, y: 523, w: 103.3, h: 51}, G_RATIO, G_LOGP, -40, ORANGE, true);
bracket(313.3, 365, 614);
colorbar(290, 639, 43, 8, ORANGE, '0', '-40', 'Log10 p-value');

// ---------------- panel h ----------------
txt('h', 428, 507, {s: 11, a: 'l'});
txt('Ratio mCA', 522, 507); txt('(Non-subclass core MR)/(Subclass core MR)', 522, 516);
heatmap({x: 471.7, y: 523, w: 100, h: 50}, H_RATIO, H_LOGP, -20, MAGENTA, true);
bracket(521.7, 571.7, 614);
colorbar(489, 639, 44, 8, MAGENTA, '0', '-20', 'Log10 p-value');

// ---------------- panel i ----------------
txt('i', 20, 675, {s: 11, a: 'l'});
const I_MAROON = '#8c2b4f', I_PINK = '#f27aa6';
const MCA_TICKS = [0, 0.025, 0.05, 0.075, 0.1];
const MCA_LABELS = ['0.000', '0.025', '0.050', '0.075', '0.100'];
mkChart({x: 60, y: 691.7, w: 108, h: 89.3}, {
  type: 'line', yw: 24, xh: 36,
  data: {datasets: [lineDs(GX, I_CORE, I_MAROON, 0.9), lineDs(GX, I_NONCORE, I_PINK, 0.9), lineDs(GX, I_UNCH, BLACK, 0.9),
                    bandDs(GENE_TSS, GENE_TES, 0.11)]},
  x: lin(-9.4, 244.7, [0, 85, 108, 146, 240], ['-100kb', 'TSS', '+5 kb', 'TES', '+100kb'], {rot: true}),
  y: lin(-0.0048, 0.1028, MCA_TICKS, MCA_LABELS, {fs: 7.5})
});
mkChart({x: 208, y: 691.7, w: 80, h: 89.3}, {
  type: 'line', yw: 24, xh: 36,
  data: {datasets: [lineDs(CX, IC_CORE, I_MAROON, 0.9), lineDs(CX, IC_NONCORE, I_PINK, 0.9), lineDs(CX, IC_UNCH, BLACK, 0.9),
                    bandDs(-0.35, 0.35, 0.11)]},
  x: lin(-2.7, 2.7, [-2.5, -1.25, 0, 1.25, 2.5], ['-2.5 kb', '', '0', '', '+2.5 kb'], {rot: true}),
  y: lin(-0.0048, 0.1028, MCA_TICKS, MCA_LABELS, {fs: 7.5})
});
txt('Genes', 117, 685);
txt('Linked intragenic cCREs', 248, 685);
txt('L5 mCA/CA', 30, 735, {r: -90});
txt('L5 mCA/CA', 178, 735, {r: -90});
rect(65, 819, 12, 2, I_MAROON); txt('L5 core MR genes', 80, 820, {a: 'l'});
rect(163, 819, 12, 2, '#f4a3c2'); txt('Non-L5 core MR genes', 177, 820, {a: 'l'});
rect(118, 829, 12, 2, BLACK); txt('Unchanged genes', 133, 830, {a: 'l'});

// ---------------- panel j ----------------
txt('j', 347, 675, {s: 11, a: 'l'});
const J_BOX = [
  {x: 370, y: 673, w: 62, min: -0.32, max: 6.2}, {x: 446, y: 673, w: 61, min: -0.42, max: 8.07}, {x: 522, y: 673, w: 62, min: -0.34, max: 10.35},
  {x: 370, y: 765, w: 62, min: -0.32, max: 6.2}, {x: 446, y: 765, w: 63, min: -0.34, max: 10.34}, {x: 522, y: 765, w: 60, min: -0.18, max: 5.18}
];
const ridge = (pts, base, col, ord) => ({type: 'line', data: pts.map(([x, y]) => ({x, y})), fill: {value: base}, backgroundColor: col,
  borderColor: '#555', borderWidth: 0.5, cubicInterpolationMode: 'monotone', pointRadius: 0, order: ord});
J_BOX.forEach((b, k) => {
  mkChart({x: b.x, y: b.y, w: b.w, h: 50}, {
    type: 'line', yw: 3, xh: 12,
    data: {datasets: [ridge(J_EXTRA[k], 0, 'rgba(192,104,100,0.78)', 0), ridge(J_INTRA[k], 9, 'rgba(206,230,242,0.85)', 1),
                      ridge(J_CRE[k], 13, 'rgba(242,235,120,0.9)', 2)]},
    x: lin(b.min, b.max, J_TICKS[k], J_TICKS[k].map(String), {fs: 7.5, pad: 1}),
    y: lin(-2, 48, [0, 9, 13], null, {labels: false, tl: 2})
  });
  txt(J_TITLES[k], b.x + 29, k < 3 ? 747 : 836);
});
txt('1kb regions:', 593, 729, {a: 'l'});
rect(597, 734, 8, 8, 'rgb(205,132,128)'); txt('Extragenic', 608, 738, {a: 'l'});
rect(597, 749, 8, 8, 'rgb(212,234,244)'); txt('Intragenic', 608, 753, {a: 'l'});
rect(597, 768, 8, 9, 'rgb(244,238,130)'); txt('Intragenic', 610, 768, {a: 'l'}); txt('cCREs', 610, 777, {a: 'l'});
</script>
</body>
</html>
